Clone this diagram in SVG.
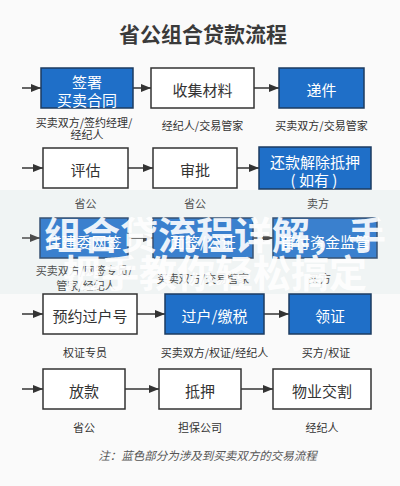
<svg xmlns="http://www.w3.org/2000/svg" width="400" height="486" viewBox="0 0 400 486">
<defs>
<marker id="ah" markerWidth="10" markerHeight="8" refX="10" refY="4" orient="auto" markerUnits="userSpaceOnUse">
<path d="M0,0 L10,4 L0,8 Z" fill="#333"/>
</marker>
<style>
text{font-family:"Noto Sans CJK SC","Noto Sans",sans-serif;dominant-baseline:central;text-anchor:middle}
.title{font-size:21px;font-weight:bold;fill:#3a3a3a}
.bw{fill:#fff;stroke:#333;stroke-width:1.5}
.bb{fill:#1f6fc8;stroke:#1c3b60;stroke-width:1.5}
.tw{font-size:15px;fill:#333}
.tb{font-size:15px;fill:#fff}
.lb{font-size:11px;fill:#333}
.note{font-size:11.5px;fill:#555;font-style:italic}
.ar{stroke:#333;stroke-width:1.5;fill:none;marker-end:url(#ah)}
.ov{font-size:38px;font-weight:bold;fill:#fff;opacity:0.9}
</style>
</defs>
<rect x="0" y="0" width="400" height="486" fill="#fafafa"/>
<rect x="0" y="190" width="400" height="104" fill="#eef3f3"/>
<text class="title" x="203" y="33">省公组合贷款流程</text>

<g id="connectors">
<line class="ar" x1="22" y1="88" x2="41" y2="88"/>
<line class="ar" x1="133" y1="88" x2="151" y2="88"/>
<line class="ar" x1="254" y1="88" x2="279" y2="88"/>
<line class="ar" x1="22" y1="168" x2="43" y2="168"/>
<line class="ar" x1="128" y1="168" x2="153" y2="168"/>
<line class="ar" x1="237" y1="168" x2="259" y2="168"/>
<line class="ar" x1="22" y1="238" x2="40" y2="238"/>
<line class="ar" x1="128" y1="238" x2="153" y2="238"/>
<line class="ar" x1="253" y1="238" x2="273" y2="238"/>
<line class="ar" x1="22" y1="314" x2="43" y2="314"/>
<line class="ar" x1="137" y1="314" x2="165" y2="314"/>
<line class="ar" x1="264" y1="314" x2="289" y2="314"/>
<line class="ar" x1="22" y1="389" x2="43" y2="389"/>
<line class="ar" x1="125" y1="389" x2="159" y2="389"/>
<line class="ar" x1="241" y1="389" x2="273" y2="389"/>
</g>

<g id="n1"><rect class="bb" x="41" y="68" width="92" height="40"/><text class="tb" x="87" y="81">签署</text><text class="tb" x="87" y="99">买卖合同</text><text class="lb" x="84" y="122">买卖双方/签约经理/</text><text class="lb" x="87" y="134">经纪人</text></g>
<g id="n2"><rect class="bw" x="151" y="68" width="103" height="40"/><text class="tw" x="202.5" y="89">收集材料</text><text class="lb" x="202.5" y="125">经纪人/交易管家</text></g>
<g id="n3"><rect class="bb" x="279" y="68" width="85" height="40"/><text class="tb" x="321.5" y="89">递件</text><text class="lb" x="321.5" y="125">买卖双方/交易管家</text></g>

<g id="n4"><rect class="bw" x="43" y="148" width="85" height="40"/><text class="tw" x="85.5" y="169">评估</text><text class="lb" x="85.5" y="203">省公</text></g>
<g id="n5"><rect class="bw" x="153" y="148" width="84" height="40"/><text class="tw" x="195" y="169">审批</text><text class="lb" x="195" y="203">省公</text></g>
<g id="n6"><rect class="bb" x="259" y="147" width="112" height="42"/><text class="tb" x="315" y="161">还款解除抵押</text><text class="tb" x="314" y="179">( 如有 )</text><text class="lb" x="318" y="203">卖方</text></g>

<g id="n7"><rect class="bb" x="40" y="218" width="88" height="40"/><text class="tb" x="84" y="241">住建委网签</text><text class="lb" x="84" y="270">买卖双方/网签专员/</text><text class="lb" x="86" y="285">管家/经纪人</text></g>
<g id="n8"><rect class="bb" x="153" y="218" width="100" height="40"/><text class="tb" x="203" y="241">面签/公证</text><text class="lb" x="203" y="278">买卖双方/交易管家</text></g>
<g id="n9"><rect class="bb" x="273" y="218" width="104" height="40"/><text class="tb" x="325" y="241">首付资金监管</text><text class="lb" x="320" y="278">买方</text></g>

<rect x="0" y="190" width="400" height="104" fill="#ffffff" opacity="0.12"/>
<text class="ov" x="215" y="232">组合贷流程详解，手</text>
<text class="ov" x="215" y="270">把手教你轻松搞定</text>

<g id="n10"><rect class="bw" x="43" y="294" width="94" height="40"/><text class="tw" x="90" y="315">预约过户号</text><text class="lb" x="85" y="352">权证专员</text></g>
<g id="n11"><rect class="bb" x="165" y="294" width="99" height="40"/><text class="tb" x="214.5" y="315">过户/缴税</text><text class="lb" x="214.5" y="352">买卖双方/权证/经纪人</text></g>
<g id="n12"><rect class="bb" x="289" y="294" width="82" height="40"/><text class="tb" x="330" y="315">领证</text><text class="lb" x="326" y="352">买方/权证</text></g>

<g id="n13"><rect class="bw" x="43" y="369" width="82" height="40"/><text class="tw" x="84" y="390">放款</text><text class="lb" x="84" y="427">省公</text></g>
<g id="n14"><rect class="bw" x="159" y="369" width="82" height="40"/><text class="tw" x="200" y="390">抵押</text><text class="lb" x="200" y="427">担保公司</text></g>
<g id="n15"><rect class="bw" x="273" y="369" width="98" height="40"/><text class="tw" x="322" y="390">物业交割</text><text class="lb" x="322" y="427">经纪人</text></g>

<text class="note" x="207.5" y="455">注：蓝色部分为涉及到买卖双方的交易流程</text>
</svg>
